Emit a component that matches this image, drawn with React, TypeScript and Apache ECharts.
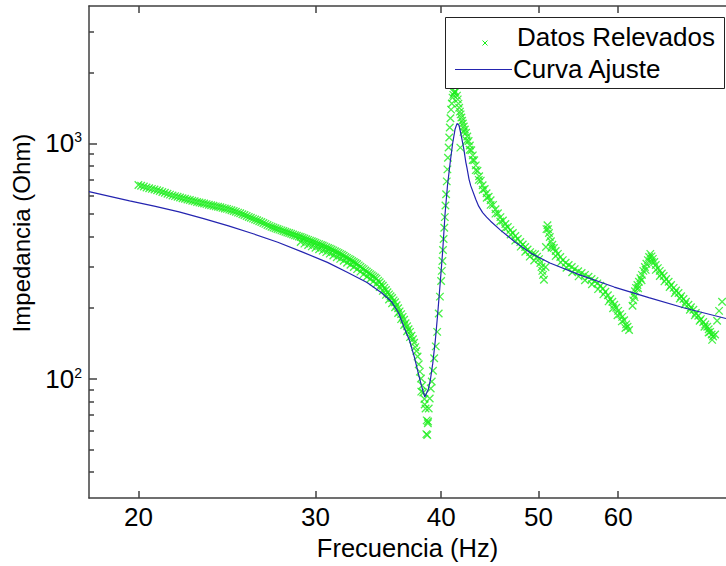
import React, { useEffect, useRef } from "react";
import * as echarts from "echarts";

// Axis ranges (data units) and tick positions
const xRange = [17.86, 76.8];
const yRange = [31.0, 3844];
const xTicks = [20, 30, 40, 50, 60];
const yMajorTicks = [100, 1000];
const yMinorTicks = [40, 50, 60, 70, 80, 90, 200, 300, 400, 500, 600, 700, 800, 900, 2000, 3000];

// Measured data [frequency Hz, impedance Ohm]
const measuredLow: [number, number][] = [
  [20.0, 666], [20.125, 661], [20.25, 656], [20.375, 650], [20.5, 645], [20.625, 641], [20.75, 637], [20.875, 632],
  [21.0, 628], [21.125, 622], [21.25, 617], [21.375, 611], [21.5, 606], [21.625, 601], [21.75, 597], [21.875, 593],
  [22.0, 589], [22.125, 585], [22.25, 582], [22.375, 578], [22.5, 575], [22.625, 571], [22.75, 568], [22.875, 564],
  [23.0, 561], [23.125, 558], [23.25, 555], [23.375, 552], [23.5, 549], [23.625, 546], [23.75, 543], [23.875, 540],
  [24.0, 538], [24.125, 535], [24.25, 532], [24.375, 529], [24.5, 527], [24.625, 523], [24.75, 520], [24.875, 516],
  [25.0, 512], [25.125, 508], [25.25, 505], [25.375, 500], [25.5, 496], [25.625, 491], [25.75, 487], [25.875, 483],
  [26.0, 479], [26.125, 475], [26.25, 471], [26.375, 467], [26.5, 463], [26.625, 459], [26.75, 455], [26.875, 450],
  [27.0, 446], [27.125, 442], [27.25, 439], [27.375, 436], [27.5, 433], [27.625, 430], [27.75, 427], [27.875, 424],
  [28.0, 421], [28.125, 418], [28.25, 416], [28.375, 413], [28.5, 410], [28.625, 407], [28.75, 405], [28.875, 402],
  [29.0, 400], [29.125, 397], [29.25, 394], [29.375, 391], [29.5, 389], [29.625, 386], [29.75, 384], [29.875, 381],
  [30.0, 378], [30.125, 375], [30.25, 373], [30.375, 370], [30.5, 368], [30.625, 365], [30.75, 362], [30.875, 359],
  [31.0, 357], [31.125, 354], [31.25, 351], [31.375, 348], [31.5, 345], [31.625, 342], [31.75, 339], [31.875, 336],
  [32.0, 333], [32.125, 329], [32.25, 326], [32.375, 323], [32.5, 320], [32.625, 316], [32.75, 313], [32.875, 310],
  [33.0, 307], [33.125, 303], [33.25, 299], [33.375, 295], [33.5, 292], [33.625, 288], [33.75, 285], [33.875, 281],
  [34.0, 278], [34.125, 275], [34.25, 272], [34.375, 269], [34.5, 266], [34.625, 261], [34.75, 257], [34.875, 252],
  [35.0, 248], [35.125, 243], [35.25, 238], [35.375, 233], [35.5, 228], [35.625, 224], [35.75, 220], [35.875, 215],
  [36.0, 211], [36.125, 205], [36.25, 199], [36.375, 193], [36.5, 188], [36.625, 183], [36.75, 178], [36.875, 172],
  [37.0, 167], [37.125, 162], [37.25, 158], [37.375, 152], [37.5, 147],
  [37.6, 142], [37.7, 136], [37.8, 131], [37.9, 124], [38.0, 115], [38.1, 107], [38.2, 100], [38.3, 93.4],
  [38.4, 87.2], [38.5, 81.9], [38.6, 74.6], [38.7, 66.4], [38.75, 57.5],
  [38.22, 88], [38.52, 77.6], [38.67, 58], [38.82, 65.7],
];

// Lower edge of the measured band where the readings spread (29–37 Hz)
const measuredLowSpread: [number, number][] = [
  [29.0, 381], [29.25, 375], [29.5, 370], [29.75, 365], [30.0, 360], [30.25, 355], [30.5, 350], [30.75, 345],
  [31.0, 340], [31.25, 334], [31.5, 328], [31.75, 323], [32.0, 317], [32.25, 311], [32.5, 305], [32.75, 298],
  [33.0, 292], [33.25, 285], [33.5, 278], [33.75, 271], [34.0, 265], [34.25, 259], [34.5, 253], [34.75, 245],
  [35.0, 236], [35.25, 227], [35.5, 217], [35.75, 209], [36.0, 201], [36.25, 190], [36.5, 179], [36.75, 169],
  [37.0, 159], [37.25, 150],
];

const measuredResonance: [number, number][] = [
  [38.8, 64.5], [38.88, 74.6], [38.97, 82.3], [39.06, 90.7], [39.15, 97.1], [39.26, 108], [39.37, 122],
  [39.51, 137], [39.64, 158], [39.78, 189], [39.89, 223], [40.0, 260], [40.06, 287], [40.12, 316],
  [40.17, 352], [40.23, 392], [40.29, 438], [40.34, 486], [40.4, 545], [40.46, 608], [40.52, 690],
  [40.58, 776], [40.63, 870], [40.69, 962], [40.75, 1060], [40.8, 1169], [40.86, 1280], [40.92, 1393],
  [40.99, 1480], [41.06, 1567], [41.13, 1610], [41.2, 1645], [41.27, 1655], [41.34, 1661], [41.48, 1598],
  [41.55, 1540], [41.62, 1477], [41.69, 1420], [41.76, 1366], [41.8, 960], [41.83, 1330], [41.9, 1289],
  [41.97, 1250], [42.04, 1215], [42.13, 1180], [42.23, 1146], [42.35, 1110], [42.47, 1071], [42.6, 1025],
  [42.72, 981], [42.86, 935], [43.01, 890], [43.15, 848], [43.3, 807], [43.47, 765], [43.64, 725],
  [43.8, 695], [43.99, 664], [44.2, 640], [44.39, 614], [44.6, 593], [44.8, 573], [45.05, 548],
  [45.31, 525], [45.56, 505], [45.82, 486], [46.08, 470], [46.34, 454], [46.6, 441], [46.87, 428],
  [47.14, 416], [47.41, 404], [47.68, 392], [47.95, 381], [48.22, 372], [48.49, 363], [48.76, 354],
  [49.04, 345], [49.32, 340], [49.6, 338], [49.83, 330], [50.05, 322], [50.2, 310], [50.34, 298],
  [50.43, 287], [50.51, 276], [50.62, 263],
];

// Lower edge of the band after the main peak
const measuredResonanceSpread: [number, number][] = [
  [42.1, 1120], [42.4, 1030], [42.7, 940], [43.0, 850], [43.3, 770], [43.6, 700], [44.0, 635], [44.4, 588],
  [44.8, 548], [45.3, 503], [45.8, 466], [46.3, 436], [46.9, 410], [47.4, 386], [48.0, 364], [48.5, 346],
  [49.0, 330], [49.5, 318],
];

const measuredHigh: [number, number][] = [
  [50.8, 298], [50.85, 363], [50.91, 432], [51.03, 449], [51.1, 432], [51.2, 416], [51.3, 400], [51.43, 384],
  [51.6, 371], [51.78, 359], [52.0, 349], [52.26, 339], [52.55, 329], [52.85, 319], [53.2, 311], [53.57, 304],
  [53.95, 298], [54.31, 292], [54.75, 286], [55.18, 281], [55.6, 276], [56.06, 271], [56.45, 265], [56.83, 260],
  [57.2, 254], [57.6, 248], [57.93, 241], [58.26, 234], [58.6, 226], [58.92, 218], [59.2, 212], [59.46, 206],
  [59.73, 200], [60.0, 194], [60.28, 188], [60.55, 183], [60.82, 177], [61.1, 170], [61.3, 166], [61.51, 161],
  [62.0, 204], [62.1, 215], [62.21, 227], [62.35, 235], [62.5, 243], [62.7, 250], [62.92, 258], [63.13, 267],
  [63.35, 276], [63.55, 287], [63.78, 298], [64.0, 308], [64.22, 319], [64.4, 329], [64.58, 339], [64.76, 331],
  [64.95, 323], [65.17, 313], [65.39, 304], [65.7, 295], [65.99, 287], [66.3, 280], [66.59, 273], [66.97, 265],
  [67.35, 258], [67.73, 250], [68.12, 243], [68.5, 237], [68.89, 231], [69.3, 224], [69.68, 218], [70.07, 212],
  [70.47, 206], [70.87, 201], [71.27, 196], [71.67, 190], [72.08, 185], [72.5, 179], [72.9, 174], [73.25, 170],
  [73.57, 166], [73.82, 162], [74.07, 158], [74.32, 154], [74.57, 151], [74.91, 154], [75.25, 176], [75.59, 194],
  [76.11, 212],
];

// Lower edge of the band on the two high-frequency ramps
const measuredHighSpread: [number, number][] = [
  [51.5, 360], [52.0, 332], [52.6, 312], [53.3, 296], [54.0, 283], [54.8, 272], [55.6, 262], [56.5, 252],
  [57.3, 240], [58.0, 228], [58.7, 213], [59.3, 199], [59.9, 186], [60.5, 175], [61.0, 164],
  [62.3, 222], [62.8, 242], [63.3, 262], [63.9, 290],
  [64.8, 313], [65.4, 290], [66.0, 273], [66.7, 259], [67.5, 245], [68.3, 231], [69.1, 219], [69.9, 207],
  [70.7, 196], [71.5, 186], [72.3, 176], [73.1, 166], [73.8, 157], [74.4, 146],
];

// Fitted curve [frequency Hz, impedance Ohm]
const fitCurve: [number, number][] = [
  [17.86, 624], [18.73, 596], [19.6, 570], [20.74, 541], [21.95, 512], [23.22, 479], [24.58, 446],
  [26.01, 413], [27.52, 380], [29.13, 345], [30.83, 312], [32.26, 283], [33.76, 256], [34.92, 231],
  [35.72, 212], [36.29, 190], [36.79, 163], [37.21, 145], [37.63, 123], [37.97, 105], [38.23, 93.7],
  [38.41, 87.2], [38.54, 83.5], [38.67, 86.4], [38.84, 89.8], [39.02, 98.1], [39.24, 116], [39.47, 145],
  [39.69, 189], [39.91, 253], [40.14, 347], [40.36, 500], [40.59, 664], [40.82, 818], [41.06, 995],
  [41.29, 1146], [41.48, 1215], [41.67, 1196], [41.9, 1071], [42.14, 943], [42.33, 831], [42.43, 792],
  [42.64, 704], [42.81, 660], [43.3, 579], [43.59, 541], [43.99, 508], [44.39, 486], [44.8, 467],
  [45.82, 428], [47.41, 380], [49.27, 339], [51.32, 310], [54.94, 276], [59.46, 245], [64.36, 221],
  [69.68, 200], [76.8, 180],
];

const lg = (v: number) => Math.log10(v);
const FONT = "'Liberation Sans', Arial, Helvetica, sans-serif";
const GREEN = "#1aee1a";
const BLUE = "#2424b0";
const AXIS = "#404040";

export default function App() {
  const ref = useRef<HTMLDivElement>(null);
  useEffect(() => {
    document.body.style.margin = "0";
    const chart = echarts.init(ref.current!, null, { renderer: "svg" });
    const toLog = (arr: [number, number][]) => arr.map(([f, z]) => [lg(f), lg(z)]);
    const measured = [
      ...measuredLow,
      ...measuredLowSpread,
      ...measuredResonance,
      ...measuredResonanceSpread,
      ...measuredHigh,
      ...measuredHighSpread,
    ];
    const axisLine = { show: true, onZero: false, lineStyle: { color: AXIS, width: 1.5 } };
    const tickStyle = { color: AXIS, width: 1.5 };
    const xMin = lg(xRange[0]);
    const xMax = lg(xRange[1]);
    const yMin = lg(yRange[0]);
    const yMax = lg(yRange[1]);
    chart.setOption({
      animation: false,
      backgroundColor: "#ffffff",
      grid: { left: 89, top: 6, width: 644, height: 494, containLabel: false },
      xAxis: [
        {
          type: "value",
          position: "bottom",
          min: xMin,
          max: xMax,
          axisLine,
          axisTick: { show: true, inside: true, length: 7, customValues: xTicks.map(lg), lineStyle: tickStyle },
          axisLabel: {
            customValues: xTicks.map(lg),
            formatter: (v: number) => String(Math.round(Math.pow(10, v))),
            fontSize: 26,
            color: "#000",
            fontFamily: FONT,
            margin: 6,
          },
          splitLine: { show: false },
          name: "Frecuencia (Hz)",
          nameLocation: "middle",
          nameGap: 36,
          nameTextStyle: { fontSize: 25.5, color: "#000", fontFamily: FONT },
        },
        {
          type: "value",
          position: "top",
          min: xMin,
          max: xMax,
          axisLine,
          axisTick: { show: true, inside: true, length: 7, customValues: xTicks.map(lg), lineStyle: tickStyle },
          axisLabel: { show: false },
          splitLine: { show: false },
        },
      ],
      yAxis: [
        {
          type: "value",
          position: "left",
          min: yMin,
          max: yMax,
          axisLine,
          axisTick: { show: true, inside: true, length: 8, customValues: yMajorTicks.map(lg), lineStyle: tickStyle },
          axisLabel: {
            customValues: yMajorTicks.map(lg),
            formatter: (v: number) => `{b|10}{s|${Math.round(v)}}`,
            margin: 7,
            rich: {
              b: { fontSize: 26, lineHeight: 26, padding: [5, 0, 5, 0], fontFamily: FONT, color: "#000" },
              s: { fontSize: 14, lineHeight: 14, padding: [0, 0, 22, 0], fontFamily: FONT, color: "#000", verticalAlign: "top" },
            },
          },
          splitLine: { show: false },
        },
        {
          type: "value",
          position: "left",
          min: yMin,
          max: yMax,
          axisLine: { show: false },
          axisTick: { show: true, inside: true, length: 5, customValues: yMinorTicks.map(lg), lineStyle: tickStyle },
          axisLabel: { show: false },
          splitLine: { show: false },
        },
      ],
      series: [
        {
          type: "scatter",
          name: "Datos Relevados",
          xAxisIndex: 0,
          yAxisIndex: 0,
          data: toLog(measured),
          symbol: "path://M0,0L10,10M10,0L0,10",
          symbolSize: 7.5,
          itemStyle: { color: "rgba(0,0,0,0)", borderColor: GREEN, borderWidth: 1.3 },
          silent: true,
          z: 2,
        },
        {
          type: "line",
          name: "Curva Ajuste",
          xAxisIndex: 0,
          yAxisIndex: 0,
          data: toLog(fitCurve),
          showSymbol: false,
          symbol: "none",
          lineStyle: { color: BLUE, width: 1.2 },
          silent: true,
          z: 3,
        },
      ],
      graphic: [
        {
          type: "rect",
          z: 100,
          shape: { x: 445.5, y: 17.5, width: 279, height: 71 },
          style: { fill: "#ffffff", stroke: "#222", lineWidth: 1 },
        },
        {
          type: "line",
          z: 101,
          shape: { x1: 482.5, y1: 40.5, x2: 487.5, y2: 45.5 },
          style: { stroke: GREEN, lineWidth: 1 },
        },
        {
          type: "line",
          z: 101,
          shape: { x1: 482.5, y1: 45.5, x2: 487.5, y2: 40.5 },
          style: { stroke: GREEN, lineWidth: 1 },
        },
        {
          type: "text",
          z: 101,
          x: 517,
          y: 37,
          style: { text: "Datos Relevados", fontSize: 26, fontFamily: FONT, fill: "#000", align: "left", verticalAlign: "middle" },
        },
        {
          type: "line",
          z: 101,
          shape: { x1: 455, y1: 69.5, x2: 512, y2: 69.5 },
          style: { stroke: BLUE, lineWidth: 1.2 },
        },
        {
          type: "text",
          z: 101,
          x: 513,
          y: 69,
          style: { text: "Curva Ajuste", fontSize: 26, fontFamily: FONT, fill: "#000", align: "left", verticalAlign: "middle" },
        },
        {
          type: "text",
          z: 101,
          x: 21.5,
          y: 233,
          rotation: Math.PI / 2,
          style: { text: "Impedancia (Ohm)", fontSize: 24, fontFamily: FONT, fill: "#000", align: "center", verticalAlign: "middle" },
        },
      ],
    });
    return () => chart.dispose();
  }, []);
  return <div ref={ref} style={{ width: 726, height: 566, overflow: "hidden" }} />;
}
